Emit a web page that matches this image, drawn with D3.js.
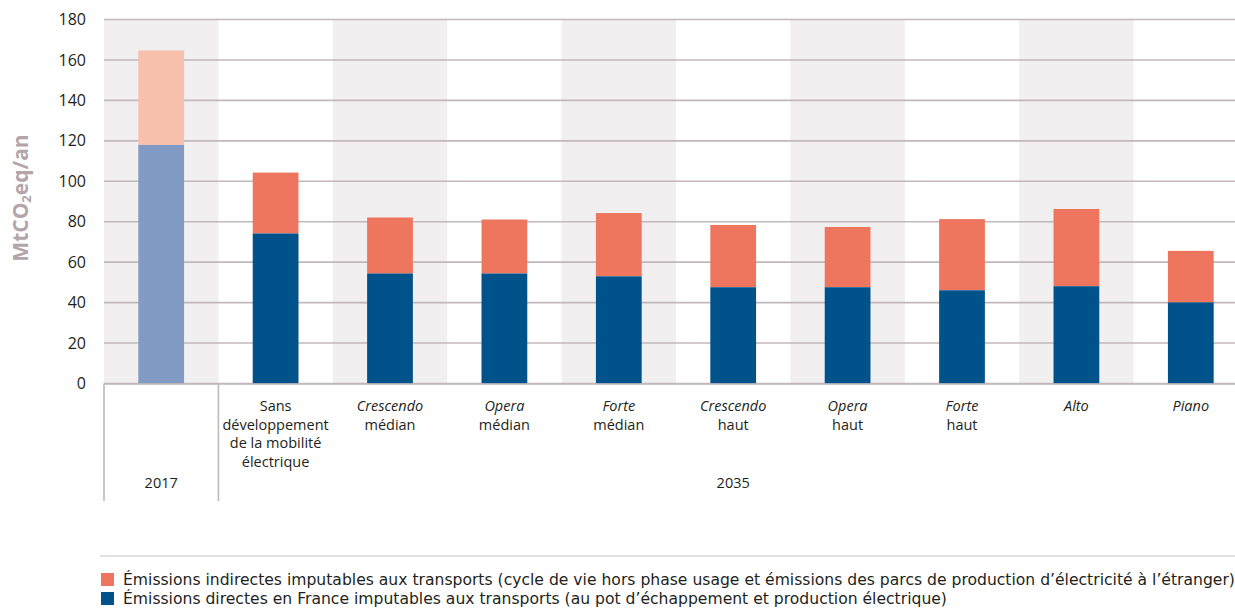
<!DOCTYPE html>
<html><head><meta charset="utf-8">
<script src="https://cdn.jsdelivr.net/npm/d3@7"></script>
<style>
body{margin:0;background:#fff;}
svg{display:block;}
</style></head>
<body>
<svg id="chart" width="1235" height="613"></svg>
<script>
const categories = ["2017","Sans","CrescendoM","OperaM","ForteM","CrescendoH","OperaH","ForteH","Alto","Piano"];
const labelLines = [
  [],
  [["Sans",false],["développement",false],["de la mobilité",false],["électrique",false]],
  [["Crescendo",true],["médian",false]],
  [["Opera",true],["médian",false]],
  [["Forte",true],["médian",false]],
  [["Crescendo",true],["haut",false]],
  [["Opera",true],["haut",false]],
  [["Forte",true],["haut",false]],
  [["Alto",true]],
  [["Piano",true]]
];
const directValues   = [118, 74.2, 54.4, 54.4, 53.0, 47.6, 47.6, 46.1, 48.1, 40.1];
const indirectValues = [46.7, 30.1, 27.7, 26.7, 31.3, 30.8, 29.8, 35.2, 38.2, 25.5];
const yTicks = [0,20,40,60,80,100,120,140,160,180];
const groups = [{label:"2017", from:0, to:0},{label:"2035", from:1, to:9}];
const legendItems = [
  {text:"Émissions indirectes imputables aux transports (cycle de vie hors phase usage et émissions des parcs de production d’électricité à l’étranger)", color:"#ee765e"},
  {text:"Émissions directes en France imputables aux transports (au pot d’échappement et production électrique)", color:"#00528a"}
];

const svg = d3.select("#chart");
const pLeft = 104, pRight = 1248, pTop = 19.5, pBottom = 383.5;
const x = d3.scaleBand().domain(categories).range([pLeft, pRight]).padding(0);
const y = d3.scaleLinear().domain([0,180]).range([pBottom, pTop]);
const textColor = "#231f20";
const font = "'Open Sans', sans-serif";

// alternating bands
svg.append("g").selectAll("rect").data(categories.filter((d,i)=>i%2===0)).join("rect")
  .attr("x", d=>x(d)).attr("y", y(180)).attr("width", x.bandwidth()).attr("height", y(0)-y(180))
  .attr("fill", "#f1eff0");

// gridlines
svg.append("g").selectAll("line").data(yTicks).join("line")
  .attr("x1", pLeft).attr("x2", 1235).attr("y1", d=>y(d)).attr("y2", d=>y(d))
  .attr("stroke", "#c2b7bb").attr("stroke-width", 1.6);

// y tick labels
svg.append("g").selectAll("text").data(yTicks).join("text")
  .attr("x", 86).attr("y", d=>y(d)).attr("dy", "0.35em").attr("text-anchor","end")
  .attr("font-family", font).attr("font-size", 16).attr("fill", textColor).text(d=>d);

// y title
const yt = svg.append("text").attr("transform", "translate(28,198) rotate(-90)")
  .attr("text-anchor","middle").attr("font-family", font).attr("font-weight", 700)
  .attr("font-size", 21).attr("fill", "#b3a5aa");
yt.append("tspan").text("MtCO");
yt.append("tspan").attr("font-size", 13).attr("baseline-shift","-25%").text("2");
yt.append("tspan").text("eq/an");

// bars
const bw = x.bandwidth()*0.4;
const barG = svg.append("g");
categories.forEach((c,i)=>{
  const cx = x(c) + x.bandwidth()/2;
  const d0 = directValues[i], d1 = d0 + indirectValues[i];
  barG.append("rect").attr("x", cx-bw/2).attr("width", bw)
    .attr("y", y(d1)).attr("height", y(d0)-y(d1))
    .attr("fill", i===0 ? "#f7c1ae" : "#ee765e");
  barG.append("rect").attr("x", cx-bw/2).attr("width", bw)
    .attr("y", y(d0)).attr("height", y(0)-y(d0))
    .attr("fill", i===0 ? "#819bc4" : "#00528a");
});

// axis line
svg.append("line").attr("x1", pLeft).attr("x2", 1235).attr("y1", y(0)+0.5).attr("y2", y(0)+0.5)
  .attr("stroke", "#c2b7bb").attr("stroke-width", 1.6);

// group separators
[pLeft, x(categories[1])].forEach(px=>{
  svg.append("line").attr("x1", px).attr("x2", px).attr("y1", y(0)).attr("y2", 501)
    .attr("stroke", "#c2b7bb").attr("stroke-width", 1.6);
});

// category labels
categories.forEach((c,i)=>{
  const cx = x(c) + x.bandwidth()/2;
  const t = svg.append("text").attr("text-anchor","middle").attr("font-family", font)
    .attr("font-size", 14.5).attr("fill", textColor);
  labelLines[i].forEach((ln,j)=>{
    t.append("tspan").attr("x", cx).attr("y", 411 + j*18.5)
      .attr("font-style", ln[1] ? "italic" : "normal").text(ln[0]);
  });
});

// group labels
groups.forEach(g=>{
  const x0 = x(categories[g.from]), x1 = x(categories[g.to]) + x.bandwidth();
  svg.append("text").attr("x", (x0+x1)/2).attr("y", 488).attr("text-anchor","middle")
    .attr("font-family", font).attr("font-size", 14.5).attr("fill", textColor).text(g.label);
});

// legend
svg.append("line").attr("x1", 100).attr("x2", 1235).attr("y1", 556).attr("y2", 556)
  .attr("stroke", "#c8bfc2").attr("stroke-width", 1.2);
legendItems.forEach((it,i)=>{
  svg.append("rect").attr("x", 101).attr("y", 573 + i*19).attr("width", 13).attr("height", 13).attr("fill", it.color);
  svg.append("text").attr("x", 123).attr("y", 585 + i*19)
    .attr("font-family", "'DejaVu Sans', Verdana, sans-serif").attr("font-size", 15.6)
    .attr("fill", textColor).text(it.text);
});
</script>
</body></html>
